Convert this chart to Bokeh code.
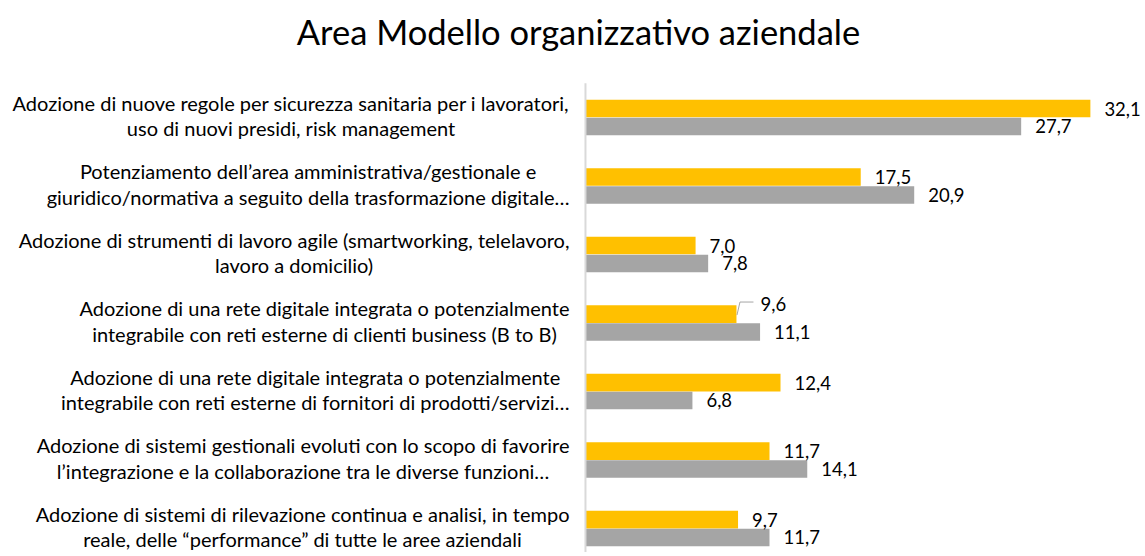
from bokeh.plotting import figure
from bokeh.models import Range1d, Label, ColumnDataSource
from bokeh.core.properties import value
from bokeh.embed import file_html
from bokeh.resources import INLINE

title = "Area Modello organizzativo aziendale"
categories = [
    "Adozione di nuove regole per sicurezza sanitaria per i lavoratori,\nuso di nuovi presidi, risk management",
    "Potenziamento dell\u2019area amministrativa/gestionale e\ngiuridico/normativa a seguito della trasformazione digitale\u2026",
    "Adozione di strumenti di lavoro agile (smartworking, telelavoro,\nlavoro a domicilio)",
    "Adozione di una rete digitale integrata o potenzialmente\nintegrabile con reti esterne di clienti business (B to B)",
    "Adozione di una rete digitale integrata o potenzialmente\nintegrabile con reti esterne di fornitori di prodotti/servizi\u2026",
    "Adozione di sistemi gestionali evoluti con lo scopo di favorire\nl\u2019integrazione e la collaborazione tra le diverse funzioni\u2026",
    "Adozione di sistemi di rilevazione continua e analisi, in tempo\nreale, delle \u201cperformance\u201d di tutte le aree aziendali",
]
series_yellow = [32.1, 17.5, 7.0, 9.6, 12.4, 11.7, 9.7]
series_gray = [27.7, 20.9, 7.8, 11.1, 6.8, 14.1, 11.7]
callout_index = 3  # the yellow label drawn with a leader line

YELLOW = "#FFC000"
GRAY = "#A5A5A5"
FONT = "Lato"

W, H = 1141, 552
x_start, x_end = -37.19, 35.35
y_bottom, y_top = 6.350, -1.708
px_x = W / (x_end - x_start)
px_y = H / (y_bottom - y_top)

n = len(categories)
idx = list(range(n))
bar_h = 0.258
off = 0.131

p = figure(width=W, height=H, output_backend="svg", toolbar_location=None,
           x_range=Range1d(x_start, x_end), y_range=Range1d(y_bottom, y_top),
           x_axis_location=None, y_axis_location=None,
           min_border=0, outline_line_color=None)
p.grid.visible = False
p.background_fill_color = "white"
p.border_fill_color = "white"

fmt = lambda v: f"{v:.1f}".replace(".", ",")

src_y = ColumnDataSource(dict(y=[i - off for i in idx], v=series_yellow))
src_g = ColumnDataSource(dict(y=[i + off for i in idx], v=series_gray))

p.hbar(y="y", right="v", left=0, height=bar_h, source=src_y, fill_color=YELLOW, line_color=None)
p.hbar(y="y", right="v", left=0, height=bar_h, source=src_g, fill_color=GRAY, line_color=None)

# axis line
p.segment(x0=[0], y0=[-0.5], x1=[0], y1=[y_bottom], line_color="#D9D9D9", line_width=2)

# value labels
LAB_SIZE = "18.5px"
normal = [i for i in idx if i != callout_index]
p.text(x=[series_yellow[i] for i in normal], y=[i - off for i in normal],
       text=[fmt(series_yellow[i]) for i in normal], x_offset=14,
       text_font=value(FONT), text_font_size=LAB_SIZE, text_baseline="middle",
       text_align="left", text_color="#000000")
p.text(x=series_gray, y=[i + off for i in idx], text=[fmt(v) for v in series_gray],
       x_offset=14, text_font=value(FONT), text_font_size=LAB_SIZE, text_baseline="middle",
       text_align="left", text_color="#000000")
cv = series_yellow[callout_index]
cy = callout_index - off
p.text(x=[cv], y=[cy], text=[fmt(cv)], x_offset=24, y_offset=-10,
       text_font=value(FONT), text_font_size=LAB_SIZE, text_baseline="middle",
       text_align="left", text_color="#000000")
p.line(x=[cv + 0.5 / px_x, cv + 3.5 / px_x, cv + 17 / px_x],
       y=[cy + 1 / px_y, cy - 12 / px_y, cy - 12 / px_y],
       line_color="#A6A6A6", line_width=1)

# category labels
p.text(x=[0] * n, y=idx, text=categories, x_offset=-16, y_offset=-2,
       text_font=value(FONT), text_font_size="20px", text_align="center",
       anchor=value("center_right"), text_line_height=1.08, text_color="#000000")

p.add_layout(Label(x=578, y=H - 31, x_units="screen", y_units="screen", text=title,
                   text_font=FONT, text_font_size="34.5px", text_align="center",
                   text_baseline="alphabetic", text_color="#000000"))

open("out.html", "w").write(file_html(p, INLINE))
